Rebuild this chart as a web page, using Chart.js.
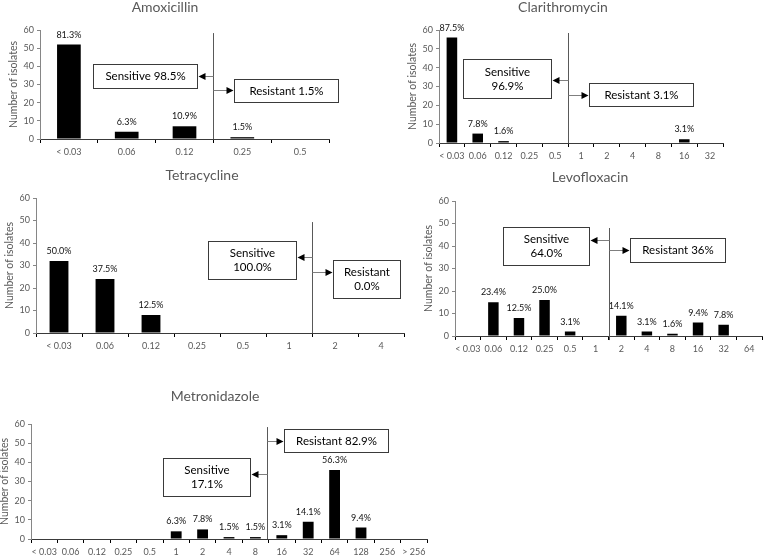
<!DOCTYPE html>
<html>
<head>
<meta charset="utf-8">
<script src="https://cdn.jsdelivr.net/npm/chart.js@4.4.1/dist/chart.umd.min.js"></script>
<style>
  html, body { margin: 0; padding: 0; background: #fff; }
  #page { position: relative; width: 763px; height: 556px; overflow: hidden; background: #fff; }
  canvas { position: absolute; }
</style>
</head>
<body>
<div id="page">
  <canvas id="amox"></canvas>
  <canvas id="clar"></canvas>
  <canvas id="tetra"></canvas>
  <canvas id="levo"></canvas>
  <canvas id="metro"></canvas>
</div>
<script>
// ---------------- data ----------------
const yTickValues = [0, 10, 20, 30, 40, 50, 60];

const amoxCategories = ['< 0.03', '0.06', '0.12', '0.25', '0.5'];
const amoxCounts     = [52, 4, 7, 1, 0];
const amoxPercents   = ['81.3%', '6.3%', '10.9%', '1.5%', ''];

const clarCategories = ['< 0.03', '0.06', '0.12', '0.25', '0.5', '1', '2', '4', '8', '16', '32'];
const clarCounts     = [56, 5, 1, 0, 0, 0, 0, 0, 0, 2, 0];
const clarPercents   = ['87.5%', '7.8%', '1.6%', '', '', '', '', '', '', '3.1%', ''];

const tetraCategories = ['< 0.03', '0.06', '0.12', '0.25', '0.5', '1', '2', '4'];
const tetraCounts     = [32, 24, 8, 0, 0, 0, 0, 0];
const tetraPercents   = ['50.0%', '37.5%', '12.5%', '', '', '', '', ''];

const levoCategories = ['< 0.03', '0.06', '0.12', '0.25', '0.5', '1', '2', '4', '8', '16', '32', '64'];
const levoCounts     = [0, 15, 8, 16, 2, 0, 9, 2, 1, 6, 5, 0];
const levoPercents   = ['', '23.4%', '12.5%', '25.0%', '3.1%', '', '14.1%', '3.1%', '1.6%', '9.4%', '7.8%', ''];

const metroCategories = ['< 0.03', '0.06', '0.12', '0.25', '0.5', '1', '2', '4', '8', '16', '32', '64', '128', '256', '> 256'];
const metroCounts     = [0, 0, 0, 0, 0, 4, 5, 1, 1, 2, 9, 36, 6, 0, 0];
const metroPercents   = ['', '', '', '', '', '6.3%', '7.8%', '1.5%', '1.5%', '3.1%', '14.1%', '56.3%', '9.4%', '', ''];

// ---------------- drawing ----------------
Chart.defaults.font.family = 'Lato, "Open Sans", sans-serif';

const annotPlugin = {
  id: 'annot',
  afterDatasetsDraw(chart, args, o) {
    const { ctx, chartArea: a, scales: { x, y } } = chart;
    ctx.save();
    // percentage labels above bars
    ctx.font = '9px Lato';
    ctx.fillStyle = '#111';
    ctx.textAlign = 'center';
    ctx.textBaseline = 'alphabetic';
    chart.getDatasetMeta(0).data.forEach((bar, i) => {
      const t = o.labels[i];
      if (t) ctx.fillText(t, bar.x, bar.y - 7);
    });
    // divider line
    const lx = Math.round(x.getPixelForValue(o.divider)) + 0.5;
    ctx.strokeStyle = '#595959';
    ctx.lineWidth = 1;
    ctx.beginPath();
    ctx.moveTo(lx, y.getPixelForValue(o.dividerTop));
    ctx.lineTo(lx, y.getPixelForValue(o.dividerBottom));
    ctx.stroke();
    // boxes + arrows
    o.boxes.forEach(b => {
      const x0 = Math.round(x.getPixelForValue(b.x0)) + 0.5;
      const x1 = Math.round(x.getPixelForValue(b.x1)) + 0.5;
      const y0 = Math.round(y.getPixelForValue(b.y0)) + 0.5;
      const y1 = Math.round(y.getPixelForValue(b.y1)) + 0.5;
      ctx.fillStyle = '#fff';
      ctx.fillRect(x0, y0, x1 - x0, y1 - y0);
      ctx.strokeStyle = '#3a3a3a';
      ctx.lineWidth = 1;
      ctx.strokeRect(x0, y0, x1 - x0, y1 - y0);
      ctx.fillStyle = '#000';
      ctx.font = '11.5px Lato';
      ctx.textAlign = 'center';
      ctx.textBaseline = 'middle';
      const cx = (x0 + x1) / 2, cy = (y0 + y1) / 2;
      const n = b.lines.length, lh = 14;
      b.lines.forEach((t, i) => ctx.fillText(t, cx, cy + (i - (n - 1) / 2) * lh));
      // arrow
      const ay = Math.round(y.getPixelForValue(b.arrowY)) + 0.5;
      const tip = b.side === 'left' ? x1 + 1 : x0 - 1;
      const dir = b.side === 'left' ? 1 : -1; // base lies at tip + dir*len
      ctx.strokeStyle = '#7f7f7f';
      ctx.beginPath();
      ctx.moveTo(lx, ay);
      ctx.lineTo(tip + dir * 6, ay);
      ctx.stroke();
      ctx.fillStyle = '#000';
      ctx.beginPath();
      ctx.moveTo(tip, ay);
      ctx.lineTo(tip + dir * 7, ay - 3.5);
      ctx.lineTo(tip + dir * 7, ay + 3.5);
      ctx.closePath();
      ctx.fill();
    });
    // panel title
    ctx.font = '14px Lato';
    ctx.fillStyle = '#595959';
    ctx.textAlign = 'center';
    ctx.textBaseline = 'middle';
    ctx.fillText(o.title, (a.left + a.right) / 2 + o.titleDx, a.top - o.titleDy);
    ctx.restore();
  }
};

function makePanel(id, rect, categories, counts, percents, ann) {
  const Y_W = 40, X_H = 22, TOP = 40, RP = rect.rp;
  const cv = document.getElementById(id);
  const w = rect.R - rect.L + Y_W + RP;
  const h = rect.B - rect.T + TOP + X_H;
  cv.width = w; cv.height = h;
  cv.style.left = (rect.L - Y_W) + 'px';
  cv.style.top = (rect.T - TOP) + 'px';
  cv.style.width = w + 'px';
  cv.style.height = h + 'px';
  new Chart(cv, {
    type: 'bar',
    data: {
      labels: categories,
      datasets: [{
        data: counts,
        backgroundColor: '#000',
        borderWidth: 0,
        barPercentage: 0.41,
        categoryPercentage: 1
      }]
    },
    options: {
      responsive: false,
      animation: false,
      devicePixelRatio: 1,
      layout: { padding: { left: 0, top: TOP, right: RP, bottom: 0 } },
      plugins: {
        legend: { display: false },
        tooltip: { enabled: false },
        title: { display: false },
        annot: Object.assign({ labels: percents }, ann)
      },
      scales: {
        x: {
          type: 'category',
          offset: true,
          grid: { offset: true, drawOnChartArea: false, drawTicks: true, tickLength: 4, color: '#000' },
          border: { color: '#3a3a3a', width: 1 },
          ticks: { color: '#595959', font: { size: 9 }, padding: 4, autoSkip: false, maxRotation: 0, minRotation: 0 },
          afterFit(s) { s.height = X_H; }
        },
        y: {
          min: 0, max: 60,
          afterBuildTicks(s) { s.ticks = yTickValues.map(v => ({ value: v })); },
          grid: { drawOnChartArea: false, drawTicks: true, tickLength: 3, color: '#868686' },
          border: { color: '#868686', width: 1 },
          ticks: { color: '#595959', font: { size: 9 }, padding: 3 },
          title: { display: true, text: 'Number of isolates', color: '#595959', font: { size: 10.5 }, padding: { top: 7.5, bottom: 0 } },
          afterFit(s) { s.width = Y_W; }
        }
      }
    },
    plugins: [annotPlugin]
  });
}

makePanel('amox', { L: 40, T: 30, R: 329, B: 139, rp: 20 }, amoxCategories, amoxCounts, amoxPercents, {
  title: 'Amoxicillin', titleDx: -19.5, titleDy: 23,
  divider: 2.5, dividerTop: 58.3, dividerBottom: 0,
  boxes: [
    { x0: 0.42, x1: 2.22, y0: 41.3, y1: 28.1, lines: ['Sensitive 98.5%'], arrowY: 34.7, side: 'left' },
    { x0: 2.86, x1: 4.66, y0: 33.0, y1: 20.4, lines: ['Resistant 1.5%'], arrowY: 27.0, side: 'right' }
  ]
});

makePanel('clar', { L: 439, T: 30, R: 723, B: 143, rp: 20 }, clarCategories, clarCounts, clarPercents, {
  title: 'Clarithromycin', titleDx: -18, titleDy: 23,
  divider: 4.5, dividerTop: 58.4, dividerBottom: 0,
  boxes: [
    { x0: 0.43, x1: 3.84, y0: 44.6, y1: 23.9, lines: ['Sensitive', '96.9%'], arrowY: 33.5, side: 'left' },
    { x0: 5.31, x1: 9.34, y0: 31.9, y1: 19.6, lines: ['Resistant 3.1%'], arrowY: 25.5, side: 'right' }
  ]
});

makePanel('tetra', { L: 36, T: 198, R: 404, B: 333, rp: 20 }, tetraCategories, tetraCounts, tetraPercents, {
  title: 'Tetracycline', titleDx: -18, titleDy: 23,
  divider: 5.5, dividerTop: 49.3, dividerBottom: 0,
  boxes: [
    { x0: 3.24, x1: 5.15, y0: 40.9, y1: 24.0, lines: ['Sensitive', '100.0%'], arrowY: 33.8, side: 'left' },
    { x0: 5.96, x1: 7.41, y0: 32.4, y1: 15.6, lines: ['Resistant', '0.0%'], arrowY: 27.1, side: 'right' }
  ]
});

makePanel('levo', { L: 455, T: 201, R: 762, B: 336, rp: 1 }, levoCategories, levoCounts, levoPercents, {
  title: 'Levofloxacin', titleDx: -18.5, titleDy: 24,
  divider: 5.5, dividerTop: 48.0, dividerBottom: -1.8,
  boxes: [
    { x0: 1.38, x1: 4.74, y0: 48.4, y1: 31.6, lines: ['Sensitive', '64.0%'], arrowY: 42.7, side: 'left' },
    { x0: 6.34, x1: 10.05, y0: 43.6, y1: 32.9, lines: ['Resistant 36%'], arrowY: 38.2, side: 'right' }
  ]
});

makePanel('metro', { L: 31, T: 424, R: 427, B: 539, rp: 20 }, metroCategories, metroCounts, metroPercents, {
  title: 'Metronidazole', titleDx: -14, titleDy: 28,
  divider: 8.45, dividerTop: 58.4, dividerBottom: 0,
  boxes: [
    { x0: 9.08, x1: 13.02, y0: 57.4, y1: 45.4, lines: ['Resistant 82.9%'], arrowY: 51.1, side: 'right' },
    { x0: 4.5, x1: 7.8, y0: 42.3, y1: 22.4, lines: ['Sensitive', '17.1%'], arrowY: 33.9, side: 'left' }
  ]
});
</script>
</body>
</html>
